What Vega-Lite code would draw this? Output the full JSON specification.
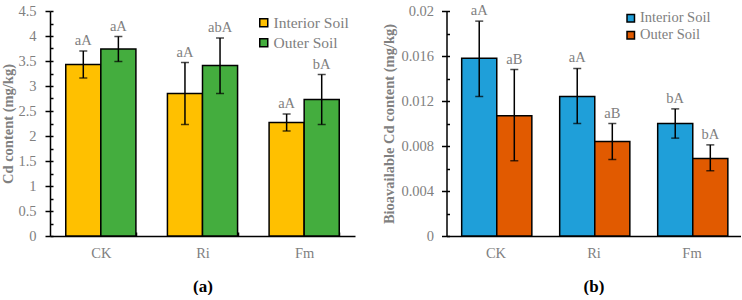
{
  "$schema": "https://vega.github.io/schema/vega-lite/v6.json",
  "padding": {"left": 0, "top": 3, "right": 0, "bottom": 0},
  "spacing": 26.5,
  "config": {"view": {"stroke": null}, "font": "Liberation Serif",
    "legend": {"labelFont": "Liberation Serif, serif"}, "axis": {"labelFont": "Liberation Serif", "titleFont": "Liberation Serif"}},
  "resolve": {"scale": {"color": "independent"}},
  "hconcat": [
    {
      "width": 305,
      "height": 225,
      "data": {"values": [
        {"trt": "CK", "soil": "Interior Soil", "mean": 3.43, "lo": 3.16, "hi": 3.70, "sig": "aA"},
        {"trt": "CK", "soil": "Outer Soil", "mean": 3.74, "lo": 3.49, "hi": 3.99, "sig": "aA"},
        {"trt": "Ri", "soil": "Interior Soil", "mean": 2.85, "lo": 2.23, "hi": 3.47, "sig": "aA"},
        {"trt": "Ri", "soil": "Outer Soil", "mean": 3.41, "lo": 2.85, "hi": 3.96, "sig": "abA"},
        {"trt": "Fm", "soil": "Interior Soil", "mean": 2.27, "lo": 2.10, "hi": 2.44, "sig": "aA"},
        {"trt": "Fm", "soil": "Outer Soil", "mean": 2.73, "lo": 2.23, "hi": 3.23, "sig": "bA"}
      ]},
      "encoding": {
        "x": {"field": "trt", "type": "nominal", "sort": ["CK", "Ri", "Fm"],
          "scale": {"paddingInner": 0.31, "paddingOuter": 0.155},
          "axis": {"title": "(a)", "titleFontWeight": "bold", "titleFontSize": 17, "titleColor": "black", "titlePadding": 19,
            "labelAngle": 0, "labelFontSize": 14.5, "labelColor": "#808080", "labelPadding": 14,
            "tickBand": "extent", "tickSize": -4, "tickColor": "black", "tickWidth": 1.5,
            "domainColor": "black", "domainWidth": 1.5}},
        "xOffset": {"field": "soil", "type": "nominal", "sort": ["Interior Soil", "Outer Soil"], "scale": {"paddingInner": 0, "paddingOuter": 0}}
      },
      "layer": [
        {
          "mark": {"type": "bar", "stroke": "black", "strokeWidth": 1.5},
          "encoding": {
            "y": {"field": "mean", "type": "quantitative", "scale": {"domain": [0, 4.5]},
              "axis": {"values": [0, 0.5, 1, 1.5, 2, 2.5, 3, 3.5, 4, 4.5], "labelExpr": "format(datum.value, '')",
                "title": "Cd content (mg/kg)", "titleFontWeight": "bold", "titleFontSize": 14.5, "titleColor": "#808080", "titlePadding": 2,
                "labelFontSize": 14.5, "labelColor": "#808080", "labelPadding": 9,
                "tickSize": 5, "tickColor": "black", "tickWidth": 1.5, "domainColor": "black", "domainWidth": 1.5, "grid": false, "orient": "left"}},
            "color": {"field": "soil", "type": "nominal",
              "scale": {"domain": ["Interior Soil", "Outer Soil"], "range": ["#FFC000", "#44AD3E"]},
              "legend": {"orient": "none", "legendX": 206, "legendY": 4, "title": null, "symbolType": "square", "symbolSize": 64,
                "symbolStrokeColor": "black", "symbolStrokeWidth": 1.5, "labelFont": "Liberation Serif, serif", "labelFontSize": 15.5, "labelColor": "#808080", "labelOffset": 2, "rowPadding": 3}}
          }
        },
        {
          "mark": {"type": "rule", "color": "black", "strokeWidth": 1.5},
          "encoding": {
            "y": {"field": "lo", "type": "quantitative", "scale": {"domain": [0, 4.5]},
              "axis": {"values": [0, 0.25, 0.5, 0.75, 1, 1.25, 1.5, 1.75, 2, 2.25, 2.5, 2.75, 3, 3.25, 3.5, 3.75, 4, 4.25, 4.5],
                "labels": false, "domain": false, "title": null, "grid": false, "tickSize": -3, "tickColor": "black", "tickWidth": 1.5, "orient": "left"}},
            "y2": {"field": "hi"}
          }
        },
        {
          "mark": {"type": "tick", "color": "black", "thickness": 1.5, "size": 8, "orient": "horizontal"},
          "encoding": {"y": {"field": "lo", "type": "quantitative", "scale": {"domain": [0, 4.5]}, "axis": null}}
        },
        {
          "mark": {"type": "tick", "color": "black", "thickness": 1.5, "size": 8, "orient": "horizontal"},
          "encoding": {"y": {"field": "hi", "type": "quantitative", "scale": {"domain": [0, 4.5]}, "axis": null}}
        },
        {
          "mark": {"type": "text", "baseline": "bottom", "dy": -3, "fontSize": 14.5, "color": "#808080", "font": "Liberation Serif"},
          "encoding": {"y": {"field": "hi", "type": "quantitative", "scale": {"domain": [0, 4.5]}, "axis": null}, "text": {"field": "sig"}}
        }
      ],
      "resolve": {"axis": {"y": "independent"}}
    },
    {
      "width": 294,
      "height": 225,
      "data": {"values": [
        {"trt": "CK", "soil": "Interior Soil", "mean": 0.0158, "lo": 0.0124, "hi": 0.0191, "sig": "aA"},
        {"trt": "CK", "soil": "Outer Soil", "mean": 0.0107, "lo": 0.0067, "hi": 0.0148, "sig": "aB"},
        {"trt": "Ri", "soil": "Interior Soil", "mean": 0.0124, "lo": 0.0100, "hi": 0.0149, "sig": "aA"},
        {"trt": "Ri", "soil": "Outer Soil", "mean": 0.0084, "lo": 0.0068, "hi": 0.0100, "sig": "aB"},
        {"trt": "Fm", "soil": "Interior Soil", "mean": 0.0100, "lo": 0.0087, "hi": 0.0113, "sig": "bA"},
        {"trt": "Fm", "soil": "Outer Soil", "mean": 0.0069, "lo": 0.0058, "hi": 0.0081, "sig": "bA"}
      ]},
      "encoding": {
        "x": {"field": "trt", "type": "nominal", "sort": ["CK", "Ri", "Fm"],
          "scale": {"paddingInner": 0.31, "paddingOuter": 0.155},
          "axis": {"title": "(b)", "titleFontWeight": "bold", "titleFontSize": 17, "titleColor": "black", "titlePadding": 19,
            "labelAngle": 0, "labelFontSize": 14.5, "labelColor": "#808080", "labelPadding": 14,
            "tickBand": "extent", "tickSize": -4, "tickColor": "black", "tickWidth": 1.5,
            "domainColor": "black", "domainWidth": 1.5}},
        "xOffset": {"field": "soil", "type": "nominal", "sort": ["Interior Soil", "Outer Soil"], "scale": {"paddingInner": 0, "paddingOuter": 0}}
      },
      "layer": [
        {
          "mark": {"type": "bar", "stroke": "black", "strokeWidth": 1.5},
          "encoding": {
            "y": {"field": "mean", "type": "quantitative", "scale": {"domain": [0, 0.02]},
              "axis": {"values": [0, 0.004, 0.008, 0.012, 0.016, 0.02], "labelExpr": "format(datum.value, '')",
                "title": "Bioavailable Cd content (mg/kg)", "titleFontWeight": "bold", "titleFontSize": 14.5, "titleColor": "#808080", "titlePadding": 4,
                "labelFontSize": 14.5, "labelColor": "#808080", "labelPadding": 8,
                "tickSize": 5, "tickColor": "black", "tickWidth": 1.5, "domainColor": "black", "domainWidth": 1.5, "grid": false, "orient": "left"}},
            "color": {"field": "soil", "type": "nominal",
              "scale": {"domain": ["Interior Soil", "Outer Soil"], "range": ["#1F9FD9", "#E15A00"]},
              "legend": {"orient": "none", "legendX": 177, "legendY": 0, "title": null, "symbolType": "square", "symbolSize": 56,
                "symbolStrokeColor": "black", "symbolStrokeWidth": 1.5, "labelFont": "Liberation Serif, serif", "labelFontSize": 14.5, "labelColor": "#808080", "labelOffset": 2, "rowPadding": 2}}
          }
        },
        {
          "mark": {"type": "rule", "color": "black", "strokeWidth": 1.5},
          "encoding": {
            "y": {"field": "lo", "type": "quantitative", "scale": {"domain": [0, 0.02]},
              "axis": {"values": [0, 0.002, 0.004, 0.006, 0.008, 0.01, 0.012, 0.014, 0.016, 0.018, 0.02],
                "labels": false, "domain": false, "title": null, "grid": false, "tickSize": -3, "tickColor": "black", "tickWidth": 1.5, "orient": "left"}},
            "y2": {"field": "hi"}
          }
        },
        {
          "mark": {"type": "tick", "color": "black", "thickness": 1.5, "size": 8, "orient": "horizontal"},
          "encoding": {"y": {"field": "lo", "type": "quantitative", "scale": {"domain": [0, 0.02]}, "axis": null}}
        },
        {
          "mark": {"type": "tick", "color": "black", "thickness": 1.5, "size": 8, "orient": "horizontal"},
          "encoding": {"y": {"field": "hi", "type": "quantitative", "scale": {"domain": [0, 0.02]}, "axis": null}}
        },
        {
          "mark": {"type": "text", "baseline": "bottom", "dy": -3, "fontSize": 14.5, "color": "#808080", "font": "Liberation Serif"},
          "encoding": {"y": {"field": "hi", "type": "quantitative", "scale": {"domain": [0, 0.02]}, "axis": null}, "text": {"field": "sig"}}
        }
      ],
      "resolve": {"axis": {"y": "independent"}}
    }
  ]
}
